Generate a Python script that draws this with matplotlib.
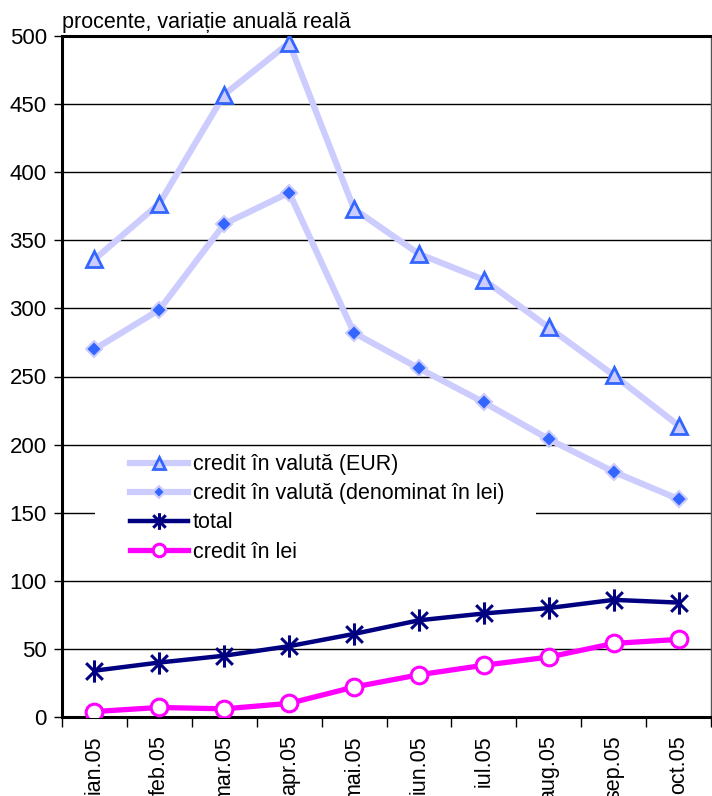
import matplotlib
import matplotlib.pyplot as plt
import numpy as np
from matplotlib.path import Path
from matplotlib.patches import Rectangle

matplotlib.use('Agg')
plt.rcParams['font.family'] = ['Liberation Sans', 'DejaVu Sans']

months = ['ian.05', 'feb.05', 'mar.05', 'apr.05', 'mai.05',
          'iun.05', 'iul.05', 'aug.05', 'sep.05', 'oct.05']
credit_eur = [336, 377, 457, 495, 373, 340, 321, 286, 251, 214]
credit_denom = [270, 299, 362, 385, 282, 256, 231, 204, 180, 160]
total = [34, 40, 45, 52, 61, 71, 76, 80, 86, 84]
credit_lei = [4, 7, 6, 10, 22, 31, 38, 44, 54, 57]

# excel style star: vertical bar plus an x
star = Path([(0, -1), (0, 1), (-0.75, -0.75), (0.75, 0.75), (-0.75, 0.75), (0.75, -0.75)],
            [Path.MOVETO, Path.LINETO, Path.MOVETO, Path.LINETO, Path.MOVETO, Path.LINETO])

fig = plt.figure(figsize=(7.12, 7.96), dpi=100)
ax = fig.add_axes([62 / 712, 79 / 796, 649 / 712, 681 / 796])

x = np.arange(len(months))
ax.plot(x, credit_eur, color='#ccccff', lw=4.5, marker='^', ms=12,
        mfc='#ccccff', mec='#3366ff', mew=2, label='credit în valută (EUR)', zorder=3)
ax.plot(x, credit_denom, color='#ccccff', lw=4.5, marker='D', ms=8,
        mfc='#3366ff', mec='#ccccff', mew=1.5, label='credit în valută (denominat în lei)', zorder=3)
ax.plot(x, total, color='#000080', lw=3.2, marker=star, ms=16,
        mfc='none', mec='#000080', mew=2.2, label='total', zorder=4)
ax.plot(x, credit_lei, color='#ff00ff', lw=3.8, marker='o', ms=12,
        mfc='white', mec='#ff00ff', mew=2.2, label='credit în lei', zorder=4)

ax.set_xlim(-0.5, len(months) - 0.5)
ax.set_ylim(0, 500)
ax.set_yticks(np.arange(0, 501, 50))
ax.yaxis.grid(True, color='black', lw=1)
ax.set_axisbelow(True)

ax.set_xticks(np.arange(-0.5, len(months) + 0.5, 1))
ax.set_xticklabels([])
ax.set_xticks(x, minor=True)
ax.set_xticklabels(months, minor=True, rotation=90, fontsize=15.5)
ax.tick_params(axis='x', which='major', direction='out', length=7, width=1)
ax.tick_params(axis='x', which='minor', length=0, pad=13)
ax.tick_params(axis='y', direction='out', length=6, width=1, labelsize=16, pad=5)

for side in ('left', 'bottom', 'top'):
    ax.spines[side].set_linewidth(2.2)
ax.spines['right'].set_linewidth(1)
ax.spines['right'].set_color('#555555')

ax.text(0, 1.004, 'procente, variație anuală reală', transform=ax.transAxes,
        fontsize=15.5, ha='left', va='bottom')

# white background behind the legend, hiding the gridline
ax.add_patch(Rectangle((0.051, 0.21), 0.68, 0.18, transform=ax.transAxes,
                       facecolor='white', edgecolor='none', zorder=1))
ax.legend(loc='upper left', bbox_to_anchor=(0.105, 0.386), fontsize=15.5,
          frameon=False, handlelength=2.7, handletextpad=0.2, labelspacing=0.38,
          borderpad=0, borderaxespad=0, markerscale=0.75)

fig.savefig('out.png', dpi=100)
